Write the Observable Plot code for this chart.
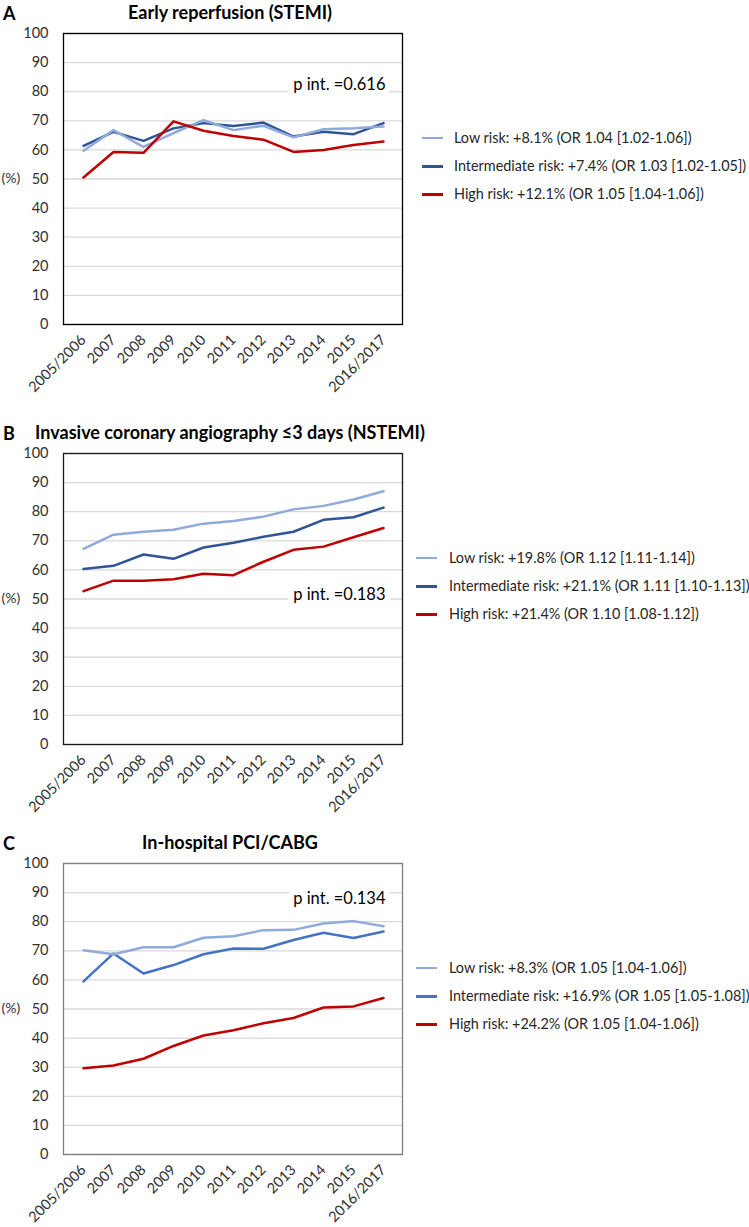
<!DOCTYPE html>
<html>
<head>
<meta charset="utf-8">
<script src="https://cdn.jsdelivr.net/npm/d3@7"></script>
<script src="https://cdn.jsdelivr.net/npm/@observablehq/plot@0.6"></script>
<style>
  html, body { margin: 0; padding: 0; background: #fff; }
  #root { position: relative; width: 749px; height: 1227px; font-family: Lato, "Open Sans", sans-serif; }
  .panel { position: absolute; left: 0; width: 749px; height: 410px; }
  .panel svg { position: absolute; left: 0; top: 0; }
  .title { position: absolute; left: 0; width: 460px; text-align: center; font-weight: bold; font-size: 18px; color: #000; line-height: 24px; }
  .tag { position: absolute; left: 3px; font-weight: bold; font-size: 18px; color: #000; line-height: 24px; }
  .legend { position: absolute; font-size: 14.4px; color: #262626; }
  .row { position: absolute; left: 0; white-space: nowrap; height: 20px; line-height: 20px; }
  .swatch { position: absolute; left: 0; top: 9px; width: 21px; height: 2.5px; }
  .label { position: absolute; top: 0; white-space: nowrap; }
</style>
</head>
<body>
<div id="root"></div>
<script>
// ---------- data ----------
const years = ["2005/2006","2007","2008","2009","2010","2011","2012","2013","2014","2015","2016/2017"];
const yTicks = [0,10,20,30,40,50,60,70,80,90,100];
const seriesNames = ["Intermediate risk","Low risk","High risk"];

const titleA = "Early reperfusion (STEMI)";
const lowA  = [59.7,66.8,61.0,65.8,70.2,66.8,68.3,64.3,67.1,67.4,68.0];
const intA  = [61.4,66.2,63.1,67.4,69.2,68.2,69.4,64.6,66.2,65.4,69.2];
const highA = [50.5,59.3,59.0,69.8,66.6,64.8,63.5,59.3,60.0,61.7,62.9];
const pA = "p int. =0.616";
const legendA = ["Low risk: +8.1% (OR 1.04 [1.02-1.06])","Intermediate risk: +7.4% (OR 1.03 [1.02-1.05])","High risk: +12.1% (OR 1.05 [1.04-1.06])"];

const titleB = "Invasive coronary angiography \u22643 days (NSTEMI)";
const lowB  = [67.2,72.1,73.1,73.8,75.9,76.8,78.3,80.8,82.0,84.2,87.0];
const intB  = [60.3,61.4,65.3,63.8,67.7,69.3,71.4,73.1,77.2,78.1,81.4];
const highB = [52.7,56.3,56.3,56.8,58.7,58.2,62.8,66.9,68.0,71.2,74.4];
const pB = "p int. =0.183";
const legendB = ["Low risk: +19.8% (OR 1.12 [1.11-1.14])","Intermediate risk: +21.1% (OR 1.11 [1.10-1.13])","High risk: +21.4% (OR 1.10 [1.08-1.12])"];

const titleC = "In-hospital PCI/CABG";
const lowC  = [70.2,68.8,71.2,71.2,74.5,75.0,77.1,77.2,79.4,80.2,78.4];
const intC  = [59.5,69.1,62.2,65.1,68.8,70.8,70.7,73.7,76.2,74.4,76.6];
const highC = [29.6,30.6,32.9,37.3,40.9,42.7,45.1,46.9,50.5,50.9,53.8];
const pC = "p int. =0.134";
const legendC = ["Low risk: +8.3% (OR 1.05 [1.04-1.06])","Intermediate risk: +16.9% (OR 1.05 [1.05-1.08])","High risk: +24.2% (OR 1.05 [1.04-1.06])"];

// ---------- styles ----------
const lightBlue = "#8faadc";
const darkBlue = "#2f5597";
const midBlue = "#4472c4";
const red = "#c00000";

const panels = [
  {tag:"A", title:titleA, low:lowA, mid:intA, high:highA, p:pA, pdy:45, legend:legendA, top:0, midColor:darkBlue, frame:"#000", lx:422, tx:32},
  {tag:"B", title:titleB, low:lowB, mid:intB, high:highB, p:pB, pdy:135, legend:legendB, top:420, midColor:darkBlue, frame:"#1a1a1a", lx:416, tx:33},
  {tag:"C", title:titleC, low:lowC, mid:intC, high:highC, p:pC, pdy:29, legend:legendC, top:830, midColor:midBlue, frame:"#7f7f7f", lx:416, tx:33}
];

const root = document.getElementById("root");

for (const P of panels) {
  const table = [];
  const bySeries = {"Low risk": P.low, "Intermediate risk": P.mid, "High risk": P.high};
  for (const s of seriesNames) years.forEach((yr, i) => table.push({series: s, year: yr, value: bySeries[s][i]}));

  const chart = Plot.plot({
    width: 749,
    height: 405,
    marginLeft: 63,
    marginRight: 347,
    marginTop: 33,
    marginBottom: 81,
    style: {fontFamily: "Lato, 'Open Sans', sans-serif", fontSize: "14.5px", color: "#303030", background: "transparent"},
    x: {type: "point", domain: years, padding: 0.5},
    y: {domain: [0, 100]},
    color: {domain: ["Low risk","Intermediate risk","High risk"], range: [lightBlue, P.midColor, red]},
    marks: [
      Plot.gridY(yTicks, {stroke: "#d9d9d9", strokeOpacity: 1, strokeWidth: 1.3}),
      Plot.text([P.p], {frameAnchor: "top-right", dx: -17, dy: P.pdy, textAnchor: "end", fontSize: 16.5, fill: "#000", stroke: "white", strokeWidth: 12, paintOrder: "stroke", text: d => d}),
      Plot.line(table, {x: "year", y: "value", z: "series", stroke: "series", strokeWidth: 2.5, strokeLinejoin: "round"}),
      Plot.frame({stroke: P.frame, strokeWidth: 1.3}),
      Plot.axisY({ticks: yTicks, tickSize: 0, tickPadding: 15, label: null, fontSize: 14.5}),
      Plot.axisX({tickSize: 0, tickRotate: -45, tickPadding: 13, label: null, fontSize: 14.5}),
      Plot.text(["(%)"], {frameAnchor: "left", dx: -62, textAnchor: "start", text: d => d, fontSize: 14})
    ]
  });

  const panel = document.createElement("div");
  panel.className = "panel";
  panel.style.top = P.top + "px";
  panel.appendChild(chart);

  const tag = document.createElement("div");
  tag.className = "tag";
  tag.style.top = "1px";
  tag.textContent = P.tag;
  panel.appendChild(tag);

  const title = document.createElement("div");
  title.className = "title";
  title.style.top = "0px";
  title.textContent = P.title;
  panel.appendChild(title);

  const legend = document.createElement("div");
  legend.className = "legend";
  legend.style.left = P.lx + "px";
  legend.style.top = "0px";
  const rowsY = [137.5, 166, 194];
  const cols = [lightBlue, P.midColor, red];
  P.legend.forEach((txt, i) => {
    const row = document.createElement("div");
    row.className = "row";
    row.style.top = (rowsY[i] - 10) + "px";
    const sw = document.createElement("div");
    sw.className = "swatch";
    sw.style.background = cols[i];
    row.appendChild(sw);
    const lab = document.createElement("div");
    lab.className = "label";
    lab.style.left = P.tx + "px";
    lab.textContent = txt;
    row.appendChild(lab);
    legend.appendChild(row);
  });
  panel.appendChild(legend);

  root.appendChild(panel);
}
</script>
</body>
</html>
